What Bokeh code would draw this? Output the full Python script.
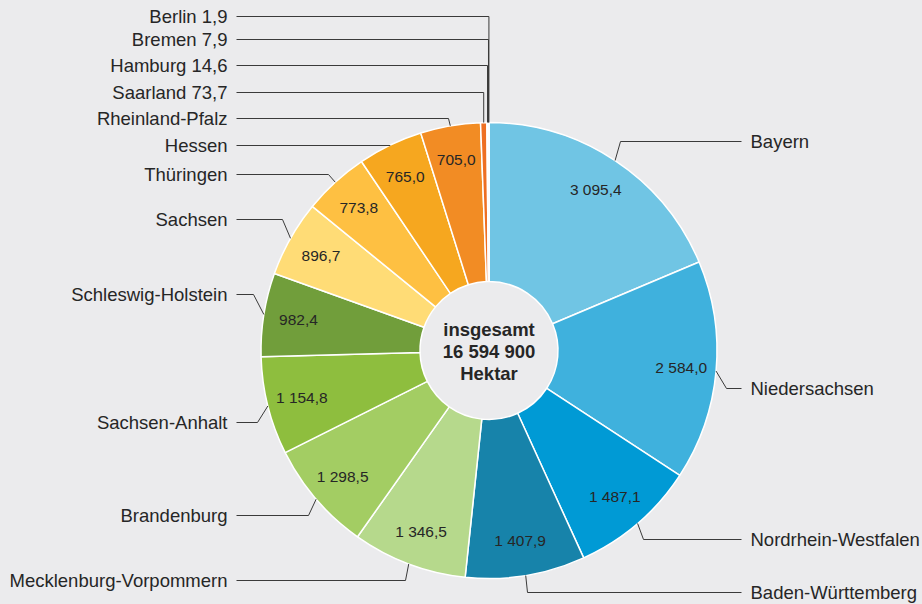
import math
from bokeh.plotting import figure
from bokeh.models import ColumnDataSource, Range1d, GlobalInlineStyleSheet
from bokeh.core.properties import value
from bokeh.embed import file_html
from bokeh.resources import INLINE

# ---------------- data ----------------
laender = ["Bayern", "Niedersachsen", "Nordrhein-Westfalen", "Baden-Württemberg",
           "Mecklenburg-Vorpommern", "Brandenburg", "Sachsen-Anhalt", "Schleswig-Holstein",
           "Sachsen", "Thüringen", "Hessen", "Rheinland-Pfalz", "Saarland", "Hamburg",
           "Bremen", "Berlin"]
flaeche_1000ha = [3095.4, 2584.0, 1487.1, 1407.9, 1346.5, 1298.5, 1154.8, 982.4,
                  896.7, 773.8, 765.0, 705.0, 73.7, 14.6, 7.9, 1.9]
total_ha = 16594900
center_lines = ["insgesamt", None, "Hektar"]

# ---------------- styles / layout ----------------
colors = ["#70c5e4", "#3fb1dd", "#009ad5", "#1783aa",
          "#b6d98c", "#a3cd63", "#8ebe3e", "#719e3b",
          "#ffdc76", "#fec042", "#f6a71f", "#f28c24",
          "#ee6f22", "#e05a1e", "#d04b1c", "#c0401a"]
# label line y positions and elbow x positions (reference pixel coordinates)
label_y = [141, 388, 539, 592, 580, 515, 422, 294, 219, 174, 145, 118, 92, 65, 39, 16]
elbow_x = [620, 726, 643, 527, 405, 308, 257, 253, 282, 328, None, 448, None, None, None, None]

BG = "#ebebed"
TXT = "#262626"
FONT = "Liberation Sans"
CX, CY = 488.5, 350.0
R_OUT, R_IN, R_VAL = 228.0, 69.0, 193.0
LEFT_END, RIGHT_END = 236.0, 741.0
LEFT_TXT, RIGHT_TXT = 227.0, 750.0

W, H = 922, 604


def Y(py):
    return 604.0 - py


def fmt(v):
    return f"{v:,.1f}".replace(",", " ").replace(".", ",")


p = figure(width=W, height=H, x_range=Range1d(0, 922), y_range=Range1d(0, 604),
           output_backend="svg", toolbar_location=None, min_border=0,
           x_axis_type=None, y_axis_type=None,
           background_fill_color=BG, border_fill_color=BG, outline_line_color=None)
p.grid.visible = False
p.stylesheets = [GlobalInlineStyleSheet(css=f"body {{ background: {BG}; }}")]

tot = sum(flaeche_1000ha)
starts, ends, mids = [], [], []
acc = 0.0
for v in flaeche_1000ha:
    f0 = acc / tot
    acc += v
    f1 = acc / tot
    starts.append(math.pi / 2 - 2 * math.pi * f0)
    ends.append(math.pi / 2 - 2 * math.pi * f1)
    mids.append(2 * math.pi * (f0 + f1) / 2)  # clockwise from top

src = ColumnDataSource(dict(start=starts, end=ends, color=colors))
p.annular_wedge(x=CX, y=Y(CY), inner_radius=R_IN, outer_radius=R_OUT,
                start_angle="start", end_angle="end", direction="clock",
                fill_color="color", line_color="white", line_width=1.5, source=src)

# value labels inside the slices
vx, vy, vt = [], [], []
for v, m in zip(flaeche_1000ha, mids):
    if v >= 100:
        vx.append(CX + R_VAL * math.sin(m))
        vy.append(Y(CY) + R_VAL * math.cos(m))
        vt.append(fmt(v))
p.text(x=vx, y=vy, text=vt, text_font=value(FONT), text_font_size="15.5px",
       text_color=TXT, text_align="center", text_baseline="middle")

# leader lines and labels
xs, ys = [], []
lx_r, ly_r, lt_r = [], [], []
lx_l, ly_l, lt_l = [], [], []
for name, v, m, ly, ex in zip(laender, flaeche_1000ha, mids, label_y, elbow_x):
    sx = CX + R_OUT * math.sin(m)
    sy = CY - R_OUT * math.cos(m)
    right = m < math.pi
    if ex is None:
        ex = sx
    end = RIGHT_END if right else LEFT_END
    xs.append([sx, ex, end])
    ys.append([Y(sy), Y(ly), Y(ly)])
    txt = name if v >= 100 else f"{name} {fmt(v)}"
    if right:
        lx_r.append(RIGHT_TXT); ly_r.append(Y(ly)); lt_r.append(txt)
    else:
        lx_l.append(LEFT_TXT); ly_l.append(Y(ly)); lt_l.append(txt)

p.multi_line(xs=xs, ys=ys, line_color="#3a3a3a", line_width=1)
p.text(x=lx_r, y=ly_r, text=lt_r, text_font=value(FONT), text_font_size="18.5px",
       text_color=TXT, text_align="left", text_baseline="middle")
p.text(x=lx_l, y=ly_l, text=lt_l, text_font=value(FONT), text_font_size="18.5px",
       text_color=TXT, text_align="right", text_baseline="middle")

# centre text
total_txt = f"{total_ha:,}".replace(",", " ")
lines = [center_lines[0], total_txt, center_lines[2]]
p.text(x=[CX] * 3, y=[Y(329), Y(351), Y(373)], text=lines, text_font=value(FONT),
       text_font_size="18.5px", text_font_style="bold", text_color=TXT,
       text_align="center", text_baseline="middle")

open("out.html", "w").write(file_html(p, INLINE))
